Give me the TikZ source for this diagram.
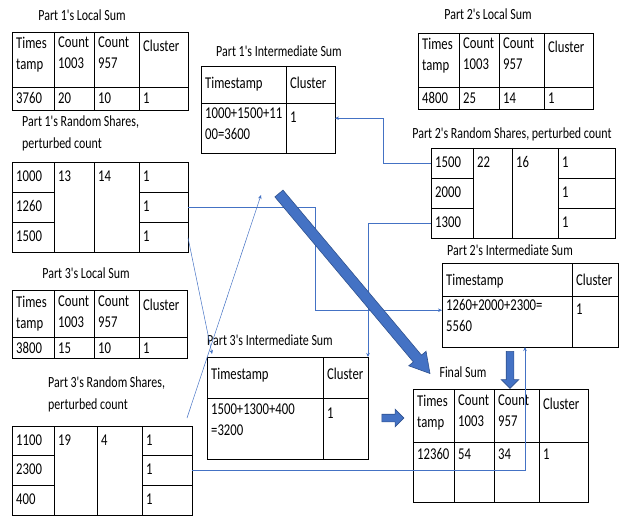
\documentclass[tikz,border=0pt]{standalone}
\usepackage{fontspec}
\usepackage{tikz}
\usetikzlibrary{arrows.meta,shapes.arrows}
\newfontfamily\cf{Carlito}[FakeStretch=0.77]
\definecolor{linkblue}{HTML}{4472C4}
\definecolor{fatedge}{HTML}{2F528F}

\begin{document}
\begin{tikzpicture}[x=1pt,y=-1pt,
  tab/.style={draw,line width=0.8pt,anchor=north west,inner sep=0pt,outer sep=0pt},
  rule/.style={line width=0.8pt},
  cell/.style={anchor=north west,inner sep=0pt,align=left,font=\cf\fontsize{16.5}{21}\selectfont,execute at begin node=\strut},
  ttl/.style={anchor=base,inner sep=0pt,font=\cf\fontsize{15.5}{22}\selectfont},
  ttltwo/.style={anchor=north west,inner sep=0pt,align=left,font=\cf\fontsize{15.5}{22}\selectfont,execute at begin node=\strut},
  link/.style={draw=linkblue,line width=0.5pt,-{Stealth[length=4pt,width=3.5pt]}},
  fat/.style={single arrow,fill=linkblue,draw=fatedge,line width=0.6pt,single arrow head indent=0pt}]
        \useasboundingbox (0,0) rectangle (621,516);

        % part 1 local sum
        \node[ttl] (h1) at (82,21) {Part 1's Local Sum};
        \node[tab,minimum width=176pt,minimum height=78pt] (loc1) at (12,32) {};
        \draw[rule] (54,32) -- (54,110) (94,32) -- (94,110) (139,32) -- (139,110) (12,87) -- (188,87);
        \node[cell] (l1a) at (16,37) {Times\\tamp};
        \node[cell] (l1b) at (58,37) {Count\\1003};
        \node[cell] (l1c) at (98,37) {Count\\957};
        \node[cell] (l1d) at (143,37) {Cluster};
        \node[cell] (l1e) at (16,88.5) {3760};
        \node[cell] (l1f) at (58,88.5) {20};
        \node[cell] (l1g) at (98,88.5) {10};
        \node[cell] (l1h) at (143,88.5) {1};

        % part 2 local sum
        \node[ttl] (h2) at (488,20) {Part 2's Local Sum};
        \node[tab,minimum width=175pt,minimum height=76pt] (loc2) at (418,33) {};
        \draw[rule] (459,33) -- (459,109) (499,33) -- (499,109) (544,33) -- (544,109) (418,87) -- (593,87);
        \node[cell] (l2a) at (422,38) {Times\\tamp};
        \node[cell] (l2b) at (463,38) {Count\\1003};
        \node[cell] (l2c) at (503,38) {Count\\957};
        \node[cell] (l2d) at (548,38) {Cluster};
        \node[cell] (l2e) at (422,88.5) {4800};
        \node[cell] (l2f) at (463,88.5) {25};
        \node[cell] (l2g) at (503,88.5) {14};
        \node[cell] (l2h) at (548,88.5) {1};

        % part 3 local sum
        \node[ttl] (h3) at (86,278) {Part 3's Local Sum};
        \node[tab,minimum width=175pt,minimum height=68pt] (loc3) at (12,290) {};
        \draw[rule] (54,290) -- (54,358) (94,290) -- (94,358) (139,290) -- (139,358) (12,337) -- (187,337);
        \node[cell] (l3a) at (16,296) {Times\\tamp};
        \node[cell] (l3b) at (58,296) {Count\\1003};
        \node[cell] (l3c) at (98,296) {Count\\957};
        \node[cell] (l3d) at (143,296) {Cluster};
        \node[cell] (l3e) at (16,338.5) {3800};
        \node[cell] (l3f) at (58,338.5) {15};
        \node[cell] (l3g) at (98,338.5) {10};
        \node[cell] (l3h) at (143,338.5) {1};

        % final sum
        \node[ttl] (h4) at (463,377) {Final Sum};
        \node[tab,minimum width=175pt,minimum height=113pt] (fin) at (413,389) {};
        \draw[rule] (454,389) -- (454,502) (494,389) -- (494,502) (539,389) -- (539,502) (413,442) -- (588,442);
        \node[cell] (f1) at (417,395) {Times\\tamp};
        \node[cell] (f2) at (458,395) {Count\\1003};
        \node[cell] (f3) at (498,395) {Count\\957};
        \node[cell] (f4) at (543,395) {Cluster};
        \node[cell] (f5) at (417,445) {12360};
        \node[cell] (f6) at (458,445) {54};
        \node[cell] (f7) at (498,445) {34};
        \node[cell] (f8) at (543,445) {1};

        % intermediate sums
        \node[ttl] (hi1) at (279,57) {Part 1's Intermediate Sum};
        \node[tab,minimum width=134pt,minimum height=87pt] (int1) at (201,66) {};
        \draw[rule] (286,66) -- (286,153) (201,103) -- (335,103);
        \node[cell] (i1a) at (205,73.5) {Timestamp};
        \node[cell] (i1b) at (290,73.5) {Cluster};
        \node[cell] (i1c) at (205,107.5) {1000+1500+11\\00=3600};
        \node[cell] (i1d) at (290,107.5) {1};

        \node[ttl] (hi2) at (510,255) {Part 2's Intermediate Sum};
        \node[tab,minimum width=176pt,minimum height=84pt] (int2) at (442,263) {};
        \draw[rule] (572,263) -- (572,347) (442,296) -- (618,296);
        \node[cell] (i2a) at (446,270.5) {Timestamp};
        \node[cell] (i2b) at (576,270.5) {Cluster};
        \node[cell] (i2c) at (446,299.5) {1260+2000+2300=\\5560};
        \node[cell] (i2d) at (576,299.5) {1};

        \node[ttl] (hi3) at (270,345) {Part 3's Intermediate Sum};
        \node[tab,minimum width=161pt,minimum height=102pt] (int3) at (207,357) {};
        \draw[rule] (323,357) -- (323,459) (207,398) -- (368,398);
        \node[cell] (i3a) at (211,364.5) {Timestamp};
        \node[cell] (i3b) at (327,364.5) {Cluster};
        \node[cell] (i3c) at (211,403.5) {1500+1300+400\\=3200};
        \node[cell] (i3d) at (327,403.5) {1};

        % random shares
        \node[ttltwo] (hr1) at (22,115.6) {Part 1's Random Shares,\\perturbed count};
        \node[tab,minimum width=176pt,minimum height=90pt] (rnd1) at (12,162) {};
        \draw[rule] (54,162) -- (54,252) (94,162) -- (94,252) (139,162) -- (139,252)
          (12,192) -- (54,192) (12,222) -- (54,222) (139,192) -- (188,192) (139,222) -- (188,222);
        \node[cell] (r1a) at (16,167) {1000};
        \node[cell] (r1b) at (16,197) {1260};
        \node[cell] (r1c) at (16,227) {1500};
        \node[cell] (r1d) at (58,167) {13};
        \node[cell] (r1e) at (98,167) {14};
        \node[cell] (r1f) at (143,167) {1};
        \node[cell] (r1g) at (143,197) {1};
        \node[cell] (r1h) at (143,227) {1};

        \node[ttl] (hr2) at (512,139) {Part 2's Random Shares, perturbed count};
        \node[tab,minimum width=184pt,minimum height=90pt] (rnd2) at (431,148) {};
        \draw[rule] (473,148) -- (473,238) (512,148) -- (512,238) (558,148) -- (558,238)
          (431,178) -- (473,178) (431,208) -- (473,208) (558,178) -- (615,178) (558,208) -- (615,208);
        \node[cell] (r2a) at (435,153) {1500};
        \node[cell] (r2b) at (435,183) {2000};
        \node[cell] (r2c) at (435,213) {1300};
        \node[cell] (r2d) at (477,153) {22};
        \node[cell] (r2e) at (516,153) {16};
        \node[cell] (r2f) at (562,153) {1};
        \node[cell] (r2g) at (562,183) {1};
        \node[cell] (r2h) at (562,213) {1};

        \node[ttltwo] (hr3) at (48,376.6) {Part 3's Random Shares,\\perturbed count};
        \node[tab,minimum width=180pt,minimum height=89pt] (rnd3) at (12,426) {};
        \draw[rule] (54,426) -- (54,515) (97,426) -- (97,515) (142,426) -- (142,515)
          (12,455) -- (54,455) (12,485) -- (54,485) (142,455) -- (192,455) (142,485) -- (192,485);
        \node[cell] (r3a) at (16,431) {1100};
        \node[cell] (r3b) at (16,460) {2300};
        \node[cell] (r3c) at (16,490) {400};
        \node[cell] (r3d) at (58,431) {19};
        \node[cell] (r3e) at (101,431) {4};
        \node[cell] (r3f) at (146,431) {1};
        \node[cell] (r3g) at (146,460) {1};
        \node[cell] (r3h) at (146,490) {1};

        % connectors
        \coordinate (up) at (261,195);
        \draw[link] (rnd2.west |- r2a) -- ++(-48,0) |- (int1.east |- i1d);
        \draw[link] (rnd2.west |- r2c) -| (int3.north east);
        \draw[link] (rnd1.east |- r1b) -- ++(127,0) |- (int2.west |- i2d);
        \draw[link] (rnd1.east |- r1c) -- ([xshift=5pt,yshift=3pt]int3.north west);
        \draw[link] ([xshift=-5pt,yshift=8pt]rnd3.north east) -- (up);
        \draw[link] (rnd3.east |- r3b) -| ([xshift=83pt]int2.south west);

        \node[fat,minimum height=235pt,inner sep=5pt,single arrow head extend=6pt,single arrow tip angle=60,rotate=-50] (big) at (351.5,280) {};
        \node[fat,minimum height=22pt,inner sep=3.5pt,single arrow head extend=5pt] (tofin) at (391,418) {};
        \node[fat,minimum height=37pt,inner sep=3.5pt,single arrow head extend=5pt,rotate=-90] (down) at (510,368) {};
\end{tikzpicture}
\end{document}
